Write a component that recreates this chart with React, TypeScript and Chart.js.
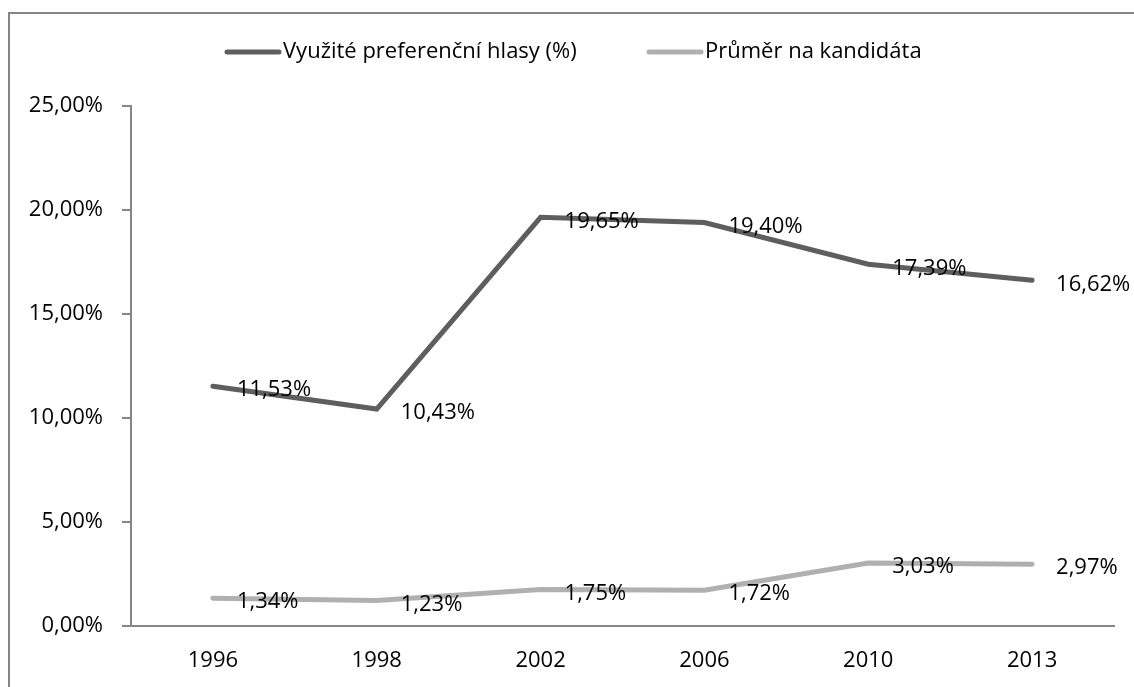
import React, { useEffect, useRef } from "react";
import { Chart, registerables } from "chart.js";

Chart.register(...registerables);

const years = ["1996", "1998", "2002", "2006", "2010", "2013"];
const usedVotes = [11.53, 10.43, 19.65, 19.4, 17.39, 16.62];
const avgPerCandidate = [1.34, 1.23, 1.75, 1.72, 3.03, 2.97];
const seriesNames = ["Využité preferenční hlasy (%)", "Průměr na kandidáta"];
const seriesColors = ["#5e5e5e", "#b0b0b0"];

const FONT = "'Open Sans', sans-serif";
const FSIZE = 22;
const LEGEND_X = [225, 647];
const fmt = (v: number) => v.toFixed(2).replace(".", ",") + "%";

const framePlugin = {
  id: "frame",
  beforeDraw(chart: any) {
    const ctx = chart.ctx;
    ctx.save();
    ctx.fillStyle = "#ffffff";
    ctx.fillRect(0, 0, chart.width, chart.height);
    ctx.strokeStyle = "#868686";
    ctx.lineWidth = 2;
    ctx.strokeRect(9, 13, chart.width + 50, chart.height + 50);
    ctx.restore();
  },
};

const legendPlugin = {
  id: "customLegend",
  afterDraw(chart: any) {
    const ctx = chart.ctx;
    ctx.save();
    ctx.font = `${FSIZE}px ${FONT}`;
    ctx.textBaseline = "middle";
    ctx.textAlign = "left";
    const y = 52;
    chart.data.datasets.forEach((ds: any, i: number) => {
      const x = LEGEND_X[i];
      ctx.strokeStyle = ds.borderColor;
      ctx.lineWidth = 5;
      ctx.lineCap = "round";
      ctx.beginPath();
      ctx.moveTo(x + 2, y);
      ctx.lineTo(x + 54, y);
      ctx.stroke();
      ctx.fillStyle = "#000000";
      ctx.fillText(ds.label, x + 58, y);
    });
    ctx.restore();
  },
};

const labelPlugin = {
  id: "pointLabels",
  afterDatasetsDraw(chart: any) {
    const ctx = chart.ctx;
    ctx.save();
    ctx.font = `${FSIZE}px ${FONT}`;
    ctx.fillStyle = "#000000";
    ctx.textBaseline = "middle";
    ctx.textAlign = "left";
    chart.data.datasets.forEach((ds: any, i: number) => {
      const meta = chart.getDatasetMeta(i);
      meta.data.forEach((pt: any, j: number) => {
        ctx.fillText(fmt(ds.data[j]), pt.x + 24, pt.y + 4);
      });
    });
    ctx.restore();
  },
};

export default function App() {
  const ref = useRef<HTMLCanvasElement | null>(null);
  useEffect(() => {
    if (!ref.current) return;
    const chart = new Chart(ref.current, {
      type: "line",
      data: {
        labels: years,
        datasets: [
          {
            label: seriesNames[0],
            data: usedVotes,
            borderColor: seriesColors[0],
            backgroundColor: seriesColors[0],
            borderWidth: 5,
            pointRadius: 0,
            borderCapStyle: "round",
            tension: 0,
          },
          {
            label: seriesNames[1],
            data: avgPerCandidate,
            borderColor: seriesColors[1],
            backgroundColor: seriesColors[1],
            borderWidth: 5,
            pointRadius: 0,
            borderCapStyle: "round",
            tension: 0,
          },
        ],
      },
      options: {
        responsive: false,
        animation: false,
        layout: { padding: { top: 106, right: 20, left: 0, bottom: 0 } },
        plugins: {
          legend: { display: false },
          tooltip: { enabled: false },
        },
        scales: {
          x: {
            offset: true,
            grid: { display: true, drawOnChartArea: false, drawTicks: false },
            border: { display: true, color: "#868686", width: 2 },
            ticks: {
              color: "#000000",
              font: { family: FONT, size: FSIZE },
              padding: 22,
              maxRotation: 0,
            },
            afterFit(scale: any) {
              scale.height = 61;
            },
          },
          y: {
            min: 0,
            max: 25,
            grid: {
              display: true,
              drawOnChartArea: false,
              drawTicks: true,
              tickLength: 9,
              color: "#868686",
              lineWidth: 2,
            },
            border: { display: true, color: "#868686", width: 2 },
            ticks: {
              stepSize: 5,
              color: "#000000",
              font: { family: FONT, size: FSIZE },
              padding: 19,
              callback: (v: any) => fmt(Number(v)),
            },
            afterFit(scale: any) {
              scale.width = 131;
            },
          },
        },
      },
      plugins: [framePlugin, labelPlugin, legendPlugin],
    } as any);
    return () => chart.destroy();
  }, []);
  return (
    <div style={{ position: "fixed", left: 0, top: 0, width: 1134, height: 687 }}>
      <canvas ref={ref} width={1134} height={687} style={{ display: "block" }} />
    </div>
  );
}
